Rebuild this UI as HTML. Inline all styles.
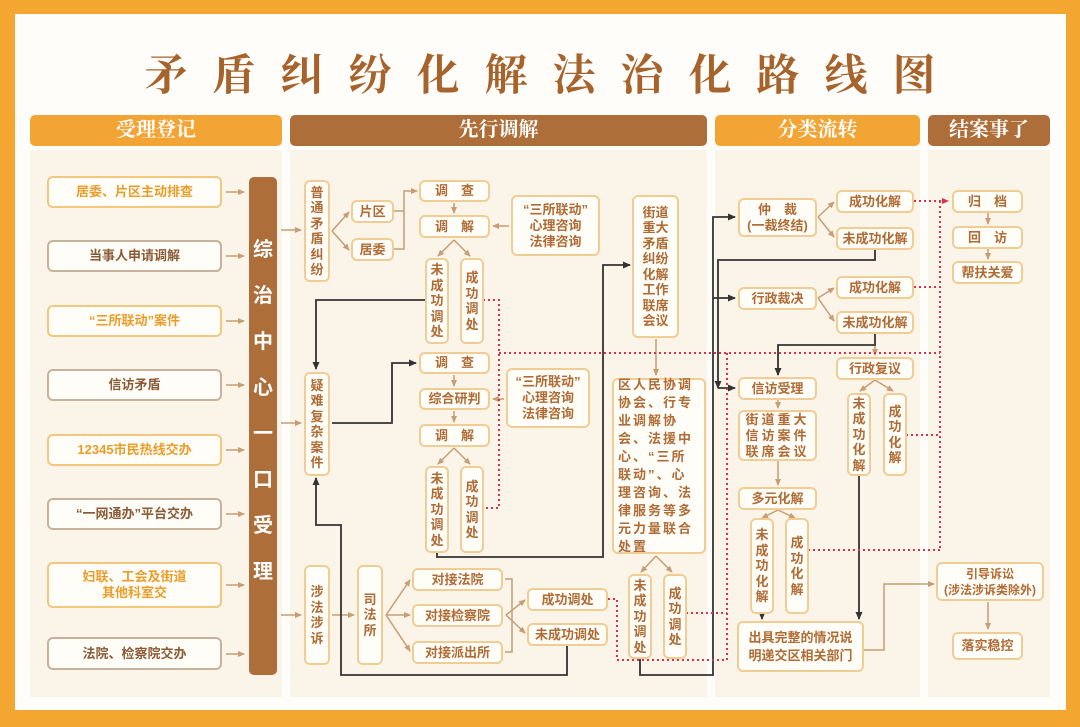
<!DOCTYPE html>
<html><head><meta charset="utf-8"><style>
*{margin:0;padding:0;box-sizing:border-box}
body{width:1080px;height:727px;position:relative;overflow:hidden;background:#f3a630;font-family:"Liberation Sans","Noto Sans CJK SC",sans-serif}
#in{position:absolute;left:15px;top:14px;width:1051px;height:696px;background:#fffdfa}
.a{position:absolute}
.t{position:absolute;left:0;top:42px;width:1080px;text-align:center;font-family:"Liberation Serif","Noto Serif CJK SC",serif;font-weight:bold;font-size:43px;color:#a6632c;letter-spacing:25px;padding-left:25px}
.h{position:absolute;height:31px;border-radius:5px;color:#fff;font-family:"Liberation Serif","Noto Serif CJK SC",serif;font-weight:bold;font-size:20px;text-align:center;line-height:31px}
.p{position:absolute;background:#fbf4e9;top:150px;height:547px}
.b{position:absolute;border:2px solid #f1cd94;border-radius:6px;background:#fffdf8;color:#b06c34;font-weight:bold;font-size:13px;display:flex;align-items:center;justify-content:center;text-align:center;line-height:16px}
.v{line-height:15.5px}
.l1{border-color:#f3c77e;color:#eb9d2a;font-size:13px}
.l2{border-color:#c9b29c;color:#8b5a36;font-size:13px}
</style></head><body>
<div id="in"></div>
<div class="t">矛盾纠纷化解法治化路线图</div>
<div class="p" style="left:30px;width:252px"></div>
<div class="p" style="left:290px;width:417px"></div>
<div class="p" style="left:715px;width:205px"></div>
<div class="p" style="left:928px;width:122px"></div>
<div class="h" style="left:30px;top:115px;width:252px;background:#f2a535">受理登记</div>
<div class="h" style="left:290px;top:115px;width:417px;background:#ae6e3a">先行调解</div>
<div class="h" style="left:715px;top:115px;width:205px;background:#f2a535">分类流转</div>
<div class="h" style="left:928px;top:115px;width:122px;background:#ae6e3a">结案事了</div>

<svg class="a" style="left:0;top:0" width="1080" height="727">
<defs>
<marker id="ta" markerUnits="userSpaceOnUse" markerWidth="7" markerHeight="7" refX="6" refY="3.5" orient="auto"><path d="M0,0.5L7,3.5L0,6.5z" fill="#c79d74"/></marker>
<marker id="da" markerUnits="userSpaceOnUse" markerWidth="8" markerHeight="8" refX="7" refY="4" orient="auto"><path d="M0,0.5L8,4L0,7.5z" fill="#333"/></marker>
<marker id="ra" markerUnits="userSpaceOnUse" markerWidth="7" markerHeight="7" refX="6" refY="3.5" orient="auto"><path d="M0,0.5L7,3.5L0,6.5z" fill="#d8304e"/></marker>
</defs>
<g stroke="#c79d74" stroke-width="1.5" fill="none" marker-end="url(#ta)">
<path d="M226 192H244"/><path d="M226 256H244"/><path d="M226 321H244"/><path d="M226 385H244"/><path d="M226 450H244"/><path d="M226 514H244"/><path d="M226 585H244"/><path d="M226 654H244"/>
<path d="M281 230H301"/><path d="M281 423H301"/><path d="M281 615H301"/>
<path d="M332 231L349 212"/><path d="M332 231L349 250"/>
<path d="M394 211H404V191H417" /><path d="M454 203V213"/><path d="M509 226H493"/>
<path d="M454 240L438 256"/><path d="M454 240L470 256"/>
<path d="M454 375V386"/><path d="M454 411V422"/><path d="M504 399H493"/>
<path d="M454 448L438 464"/><path d="M454 448L470 464"/>
<path d="M656 339V375"/><path d="M656 556L641 572"/><path d="M656 556L672 572"/>
<path d="M332 615H354"/><path d="M386 615L410 580"/><path d="M386 615H410"/><path d="M386 615L410 651"/>
<path d="M506 615L525 600"/><path d="M506 615L525 633"/>
<path d="M818 217L834 202"/><path d="M818 217L834 237"/>
<path d="M818 298L834 288"/><path d="M818 298L834 321"/>
<path d="M875 345V355"/><path d="M875 380L860 391"/><path d="M875 380L893 391"/>
<path d="M778 400V408"/><path d="M778 461V485"/><path d="M778 510L762 518"/><path d="M778 510L795 518"/>
<path d="M864 650H884V584H934"/><path d="M988 602V629"/><path d="M988 213V224"/><path d="M988 249V259"/>
</g>
<g stroke="#c79d74" stroke-width="1.5" fill="none">
<path d="M394 249H404V211"/><path d="M505 579H512V652H505"/>
</g>
<g stroke="#333" stroke-width="1.8" fill="none" marker-end="url(#da)">
<path d="M425 300H316V369"/>
<path d="M332 423H392V363H416"/>
<path d="M437 553V557H603V265H630"/>
<path d="M567 646V675H341V525H316V478"/>
<path d="M640 659V675H713V217H735"/>
<path d="M713 298H735"/><path d="M718 388H735"/>
<path d="M875 250V260H718V388"/>
<path d="M875 334V345H778V375"/>
<path d="M762 614V619"/><path d="M859 476V619"/>
</g>
<g stroke="#d8304e" stroke-width="2" stroke-dasharray="2 3" fill="none">
<path d="M914 201H948" marker-end="url(#ra)"/>
<path d="M940 201V550"/><path d="M914 287H940"/><path d="M906 435H940"/><path d="M808 550H940"/>
<path d="M483 300H499V508H483"/><path d="M499 353H940"/>
<path d="M727 353V660"/><path d="M608 599H617V660H727"/><path d="M686 613H727"/>
</g>
</svg>

<div class="b l1" style="left:47px;top:176px;width:175px;height:32px">居委、片区主动排查</div>
<div class="b l2" style="left:47px;top:240px;width:175px;height:32px">当事人申请调解</div>
<div class="b l1" style="left:47px;top:305px;width:175px;height:32px">“三所联动”案件</div>
<div class="b l2" style="left:47px;top:369px;width:175px;height:32px">信访矛盾</div>
<div class="b l1" style="left:47px;top:434px;width:175px;height:32px">12345市民热线交办</div>
<div class="b l2" style="left:47px;top:498px;width:175px;height:32px">“一网通办”平台交办</div>
<div class="b l1" style="left:47px;top:562px;width:175px;height:46px">妇联、工会及街道<br>其他科室交</div>
<div class="b l2" style="left:47px;top:637px;width:175px;height:33px">法院、检察院交办</div>
<div class="a" style="left:249px;top:177px;width:28px;height:498px;background:#ae6e3a;border-radius:5px;color:#fff;font-weight:bold;font-size:20px;text-align:center;line-height:46px;padding-top:50px">综<br>治<br>中<br>心<br>一<br>口<br>受<br>理</div>

<div class="b v" style="left:304px;top:180px;width:26px;height:102px">普<br>通<br>矛<br>盾<br>纠<br>纷</div>
<div class="b" style="left:351px;top:200px;width:43px;height:23px">片区</div>
<div class="b" style="left:351px;top:238px;width:43px;height:23px">居委</div>
<div class="b" style="left:419px;top:180px;width:71px;height:22px">调　查</div>
<div class="b" style="left:419px;top:215px;width:71px;height:23px">调　解</div>
<div class="b" style="left:511px;top:195px;width:89px;height:61px">“三所联动”<br>心理咨询<br>法律咨询</div>
<div class="b v" style="left:425px;top:258px;width:24px;height:86px">未<br>成<br>功<br>调<br>处</div>
<div class="b v" style="left:460px;top:258px;width:24px;height:86px">成<br>功<br>调<br>处</div>
<div class="b v" style="left:632px;top:195px;width:47px;height:143px">街道<br>重大<br>矛盾<br>纠纷<br>化解<br>工作<br>联席<br>会议</div>
<div class="b v" style="left:304px;top:372px;width:26px;height:104px">疑<br>难<br>复<br>杂<br>案<br>件</div>
<div class="b" style="left:419px;top:352px;width:71px;height:22px">调　查</div>
<div class="b" style="left:419px;top:388px;width:71px;height:22px">综合研判</div>
<div class="b" style="left:419px;top:424px;width:71px;height:23px">调　解</div>
<div class="b" style="left:506px;top:368px;width:84px;height:60px">“三所联动”<br>心理咨询<br>法律咨询</div>
<div class="b v" style="left:425px;top:466px;width:24px;height:87px">未<br>成<br>功<br>调<br>处</div>
<div class="b v" style="left:460px;top:466px;width:24px;height:87px">成<br>功<br>调<br>处</div>
<div class="b" style="left:612px;top:378px;width:94px;height:176px;text-align:left;justify-content:flex-start;padding:0 4px;letter-spacing:2px;line-height:18px">区人民协调协会、行专业调解协会、法援中心、“三所联动”、心理咨询、法律服务等多元力量联合处置</div>
<div class="b v" style="left:304px;top:565px;width:26px;height:100px">涉<br>法<br>涉<br>诉</div>
<div class="b v" style="left:357px;top:565px;width:26px;height:100px">司<br>法<br>所</div>
<div class="b" style="left:412px;top:568px;width:91px;height:23px">对接法院</div>
<div class="b" style="left:412px;top:604px;width:91px;height:23px">对接检察院</div>
<div class="b" style="left:412px;top:641px;width:91px;height:23px">对接派出所</div>
<div class="b" style="left:527px;top:588px;width:81px;height:23px">成功调处</div>
<div class="b" style="left:527px;top:623px;width:81px;height:23px">未成功调处</div>
<div class="b v" style="left:628px;top:574px;width:24px;height:85px">未<br>成<br>功<br>调<br>处</div>
<div class="b v" style="left:663px;top:574px;width:24px;height:85px">成<br>功<br>调<br>处</div>

<div class="b" style="left:738px;top:198px;width:79px;height:39px">仲　裁<br>(一裁终结)</div>
<div class="b" style="left:836px;top:190px;width:78px;height:23px">成功化解</div>
<div class="b" style="left:836px;top:227px;width:78px;height:23px">未成功化解</div>
<div class="b" style="left:738px;top:287px;width:79px;height:23px">行政裁决</div>
<div class="b" style="left:836px;top:276px;width:78px;height:23px">成功化解</div>
<div class="b" style="left:836px;top:311px;width:78px;height:23px">未成功化解</div>
<div class="b" style="left:836px;top:357px;width:78px;height:23px">行政复议</div>
<div class="b" style="left:738px;top:377px;width:79px;height:23px">信访受理</div>
<div class="b" style="left:738px;top:410px;width:79px;height:51px;letter-spacing:3px">街道重大<br>信访案件<br>联席会议</div>
<div class="b" style="left:738px;top:487px;width:79px;height:23px">多元化解</div>
<div class="b v" style="left:750px;top:518px;width:24px;height:96px">未<br>成<br>功<br>化<br>解</div>
<div class="b v" style="left:785px;top:518px;width:24px;height:96px">成<br>功<br>化<br>解</div>
<div class="b v" style="left:847px;top:393px;width:24px;height:83px">未<br>成<br>功<br>化<br>解</div>
<div class="b v" style="left:883px;top:393px;width:24px;height:83px">成<br>功<br>化<br>解</div>
<div class="b" style="left:737px;top:621px;width:127px;height:51px;line-height:18px">出具完整的情况说<br>明递交区相关部门</div>

<div class="b" style="left:952px;top:190px;width:71px;height:23px">归　档</div>
<div class="b" style="left:952px;top:226px;width:71px;height:23px">回　访</div>
<div class="b" style="left:952px;top:261px;width:71px;height:23px">帮扶关爱</div>
<div class="b" style="left:936px;top:562px;width:108px;height:39px;font-size:12px">引导诉讼<br>(涉法涉诉类除外)</div>
<div class="b" style="left:952px;top:632px;width:71px;height:28px">落实稳控</div>
</body></html>
